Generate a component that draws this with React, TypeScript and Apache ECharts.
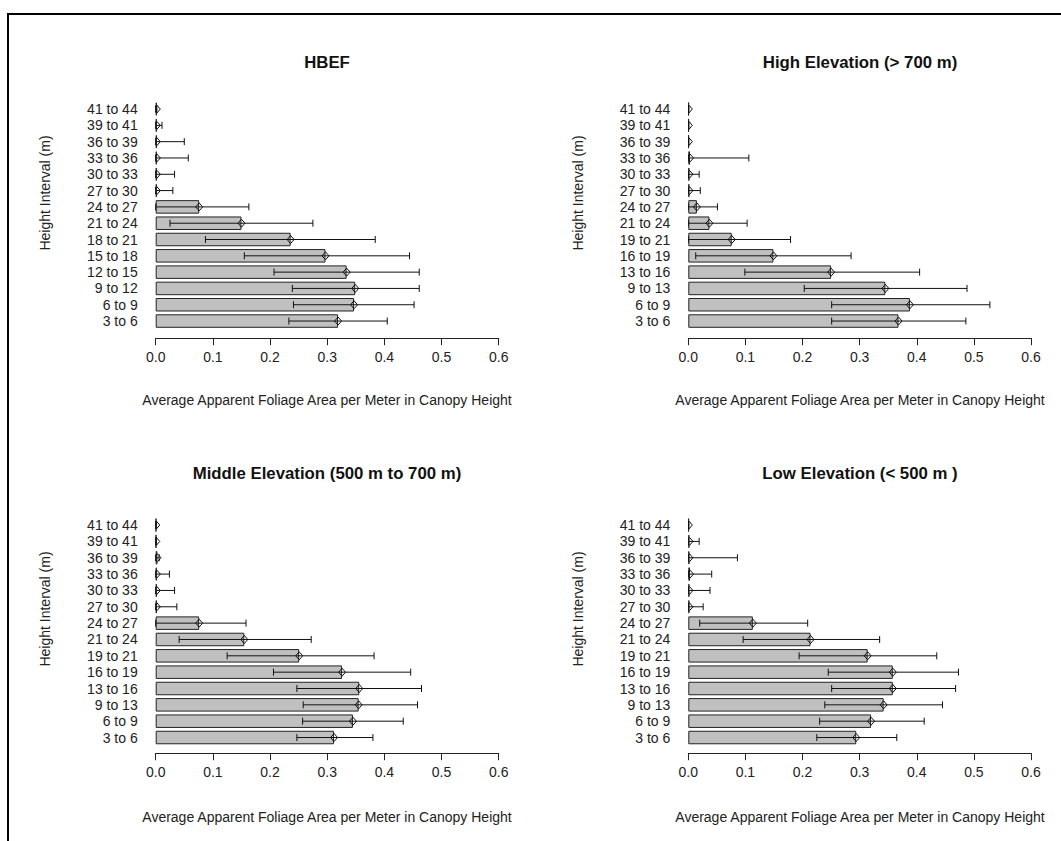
import React, { useEffect, useRef } from "react";
import * as echarts from "echarts";

// Categories (bottom to top)
const catsHBEF = ["3 to 6", "6 to 9", "9 to 12", "12 to 15", "15 to 18", "18 to 21", "21 to 24", "24 to 27", "27 to 30", "30 to 33", "33 to 36", "36 to 39", "39 to 41", "41 to 44"];
const catsElev = ["3 to 6", "6 to 9", "9 to 13", "13 to 16", "16 to 19", "19 to 21", "21 to 24", "24 to 27", "27 to 30", "30 to 33", "33 to 36", "36 to 39", "39 to 41", "41 to 44"];

// HBEF
const hbefMean = [0.319, 0.347, 0.349, 0.334, 0.297, 0.236, 0.150, 0.076, 0.002, 0.002, 0.002, 0.002, 0.002, 0.002];
const hbefLow = [0.233, 0.241, 0.239, 0.207, 0.155, 0.087, 0.025, 0, 0, 0, 0, 0, 0, 0];
const hbefHigh = [0.405, 0.452, 0.461, 0.461, 0.444, 0.384, 0.275, 0.163, 0.030, 0.033, 0.057, 0.050, 0.011, 0.002];

// High elevation
const highMean = [0.368, 0.388, 0.345, 0.250, 0.149, 0.076, 0.037, 0.015, 0.002, 0.002, 0.003, 0.001, 0.001, 0.001];
const highLow = [0.251, 0.251, 0.203, 0.099, 0.013, 0, 0, 0, 0, 0, 0, 0, 0, 0];
const highHigh = [0.486, 0.528, 0.488, 0.405, 0.285, 0.179, 0.103, 0.051, 0.021, 0.019, 0.106, 0.001, 0.001, 0.001];

// Middle elevation
const midMean = [0.312, 0.345, 0.355, 0.356, 0.326, 0.251, 0.155, 0.076, 0.002, 0.002, 0.002, 0.003, 0.001, 0.001];
const midLow = [0.247, 0.257, 0.258, 0.247, 0.206, 0.125, 0.041, 0, 0, 0, 0, 0, 0, 0];
const midHigh = [0.380, 0.433, 0.458, 0.465, 0.446, 0.382, 0.272, 0.158, 0.037, 0.033, 0.024, 0.006, 0.001, 0.001];

// Low elevation
const lowMean = [0.294, 0.320, 0.342, 0.358, 0.358, 0.314, 0.214, 0.113, 0.002, 0.002, 0.003, 0.002, 0.002, 0.001];
const lowLow = [0.225, 0.230, 0.239, 0.251, 0.245, 0.194, 0.096, 0.020, 0, 0, 0, 0, 0, 0];
const lowHigh = [0.365, 0.413, 0.445, 0.468, 0.473, 0.435, 0.335, 0.209, 0.026, 0.038, 0.041, 0.086, 0.019, 0.001];

const xTicks = [0, 0.1, 0.2, 0.3, 0.4, 0.5, 0.6];

const titles = ["HBEF", "High Elevation (> 700 m)", "Middle Elevation (500 m to 700 m)", "Low Elevation (< 500 m )"];
const xTitle = "Average Apparent Foliage Area per Meter in Canopy Height";
const yTitle = "Height Interval (m)";

const FONT = "Liberation Sans, Arial, sans-serif";

export default function App() {
  const ref = useRef<HTMLDivElement>(null);
  useEffect(() => {
    if (!ref.current) return;
    const chart = echarts.init(ref.current, null, { renderer: "svg" });

    const panels = [
      { cats: catsHBEF, mean: hbefMean, lo: hbefLow, hi: hbefHigh, left: 155.7, top: 100.9, width: 343, height: 228.3, off: 9, tx: 327, ty: 62, yx: 45, yy: 193, xty: 400 },
      { cats: catsElev, mean: highMean, lo: highLow, hi: highHigh, left: 688.3, top: 100.9, width: 342.7, height: 228.3, off: 9, tx: 860, ty: 62, yx: 578, yy: 193, xty: 400 },
      { cats: catsElev, mean: midMean, lo: midLow, hi: midHigh, left: 155.7, top: 516.9, width: 343, height: 228.8, off: 7.5, tx: 327, ty: 473, yx: 45, yy: 609, xty: 817 },
      { cats: catsElev, mean: lowMean, lo: lowLow, hi: lowHigh, left: 688.3, top: 516.9, width: 342.7, height: 228.8, off: 7.5, tx: 860, ty: 473, yx: 578, yy: 609, xty: 817 },
    ];

    const grid: any[] = [];
    const xAxis: any[] = [];
    const yAxis: any[] = [];
    const series: any[] = [];
    const graphic: any[] = [
      { type: "rect", shape: { x: 8, y: 14, width: 1100, height: 900 }, style: { fill: "none", stroke: "#000", lineWidth: 2 }, z: 100 },
    ];

    panels.forEach((p, i) => {
      grid.push({ left: p.left, top: p.top, width: p.width, height: p.height, containLabel: false });
      xAxis.push({
        type: "value",
        gridIndex: i,
        min: xTicks[0],
        max: xTicks[xTicks.length - 1],
        interval: 0.1,
        offset: p.off,
        axisLine: { show: true, lineStyle: { color: "#222", width: 1 } },
        axisTick: { show: true, length: 7, lineStyle: { color: "#222" } },
        splitLine: { show: false },
        axisLabel: { color: "#222", fontSize: 14, fontFamily: FONT, margin: 12, formatter: (v: number) => v.toFixed(1) },
      });
      yAxis.push({
        type: "category",
        gridIndex: i,
        data: p.cats,
        axisLine: { show: false },
        axisTick: { show: false },
        splitLine: { show: false },
        axisLabel: { color: "#222", fontSize: 14, fontFamily: FONT, margin: 18, interval: 0 },
      });
      series.push({
        type: "bar",
        xAxisIndex: i,
        yAxisIndex: i,
        z: 2,
        data: p.mean,
        barWidth: 13.5,
        itemStyle: { color: "#c0c0c0", borderColor: "#222", borderWidth: 1 },
        silent: true,
      });
      series.push({
        type: "custom",
        xAxisIndex: i,
        yAxisIndex: i,
        z: 5,
        clip: true,
        silent: true,
        encode: { x: [0, 1, 3], y: 2 },
        data: p.mean.map((m, k) => [p.lo[k], p.hi[k], k, m]),
        renderItem: (params: any, api: any) => {
          const lo = api.value(0);
          const hi = api.value(1);
          const ci = api.value(2);
          const m = api.value(3);
          const a = api.coord([lo, ci]);
          const b = api.coord([hi, ci]);
          const c = api.coord([m, ci]);
          const y = a[1];
          const h = 3.5;
          const st = { stroke: "#111", lineWidth: 1, fill: "none" };
          return {
            type: "group",
            children: [
              { type: "line", z2: 10, shape: { x1: a[0], y1: y, x2: b[0], y2: y }, style: st },
              { type: "line", z2: 10, shape: { x1: a[0], y1: y - h, x2: a[0], y2: y + h }, style: st },
              { type: "line", z2: 10, shape: { x1: b[0], y1: y - h, x2: b[0], y2: y + h }, style: st },
              { type: "polygon", z2: 11, shape: { points: [[c[0] - 3.5, y], [c[0], y - 4], [c[0] + 3.5, y], [c[0], y + 4]] }, style: st },
            ],
          };
        },
      });
      graphic.push({
        type: "text",
        x: p.tx,
        y: p.ty,
        style: { text: titles[i], textAlign: "center", textVerticalAlign: "middle", font: `bold 16.8px ${FONT}`, fill: "#111" },
      });
      graphic.push({
        type: "text",
        x: p.tx,
        y: p.xty,
        style: { text: xTitle, textAlign: "center", textVerticalAlign: "middle", font: `14px ${FONT}`, fill: "#222" },
      });
      graphic.push({
        type: "text",
        x: p.yx,
        y: p.yy,
        rotation: Math.PI / 2,
        style: { text: yTitle, textAlign: "center", textVerticalAlign: "middle", font: `14px ${FONT}`, fill: "#222" },
      });
    });

    chart.setOption({
      animation: false,
      backgroundColor: "#fff",
      grid,
      xAxis,
      yAxis,
      series,
      graphic,
    });
    return () => chart.dispose();
  }, []);
  return <div ref={ref} style={{ position: "absolute", left: 0, top: 0, width: 1061, height: 841, background: "#fff" }} />;
}
